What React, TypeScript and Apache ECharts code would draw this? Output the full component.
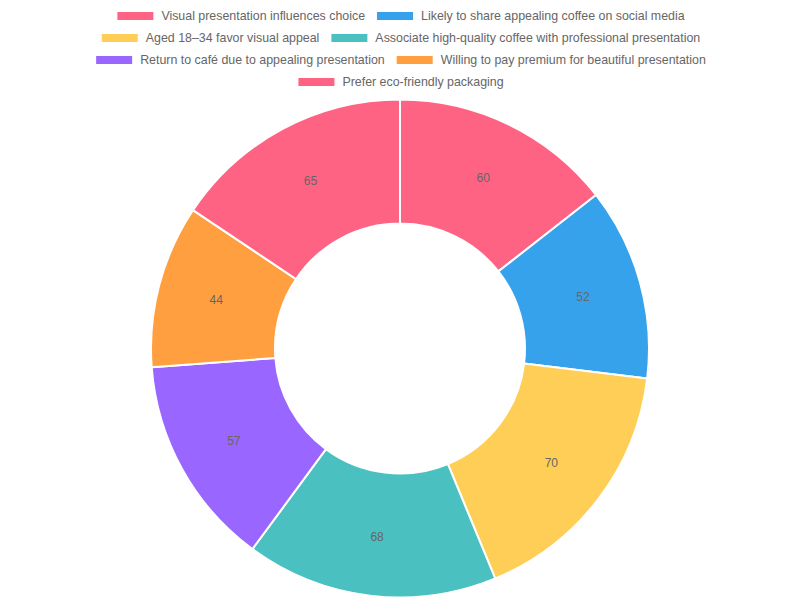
import { useEffect, useRef } from 'react';
import * as echarts from 'echarts';

const categories = [
  'Visual presentation influences choice',
  'Likely to share appealing coffee on social media',
  'Aged 18–34 favor visual appeal',
  'Associate high-quality coffee with professional presentation',
  'Return to café due to appealing presentation',
  'Willing to pay premium for beautiful presentation',
  'Prefer eco-friendly packaging',
];
const values = [60, 52, 70, 68, 57, 44, 65];
const colors = ['#FF6384', '#36A2EB', '#FFCE56', '#4BC0C0', '#9966FF', '#FF9F40', '#FF6384'];
const legendRows = [
  [0, 1],
  [2, 3],
  [4, 5],
  [6],
];

const font = 'Liberation Sans, Arial, Helvetica, sans-serif';

export default function App() {
  const chartRef = useRef<HTMLDivElement | null>(null);

  useEffect(() => {
    if (!chartRef.current) return;
    const chart = echarts.init(chartRef.current, null, { renderer: 'svg' });

    chart.setOption({
      animation: false,
      color: colors,
      legend: legendRows.map((row, i) => ({
        top: 5 + i * 22,
        left: 'center',
        icon: 'rect',
        itemWidth: 38,
        itemHeight: 10,
        itemGap: 10,
        selectedMode: false,
        textStyle: { color: '#666', fontSize: 12.4, fontFamily: font, padding: [0, 0, 0, 2] },
        data: row.map((j) => categories[j]),
      })),
      series: [
        {
          type: 'pie',
          center: [400, 348.5],
          radius: [125, 249],
          startAngle: 90,
          clockwise: true,
          emphasis: { disabled: true },
          itemStyle: { borderColor: '#fff', borderWidth: 2 },
          label: {
            show: true,
            position: 'inside',
            formatter: '{c}',
            color: '#666',
            fontSize: 12,
            fontFamily: font,
          },
          labelLine: { show: false },
          data: categories.map((name, i) => ({
            name,
            value: values[i],
            itemStyle: { color: colors[i] },
          })),
        },
      ],
    });

    return () => {
      chart.dispose();
    };
  }, []);

  return (
    <div
      ref={chartRef}
      style={{ position: 'fixed', left: 0, top: 0, width: 800, height: 600, background: '#fff' }}
    />
  );
}
